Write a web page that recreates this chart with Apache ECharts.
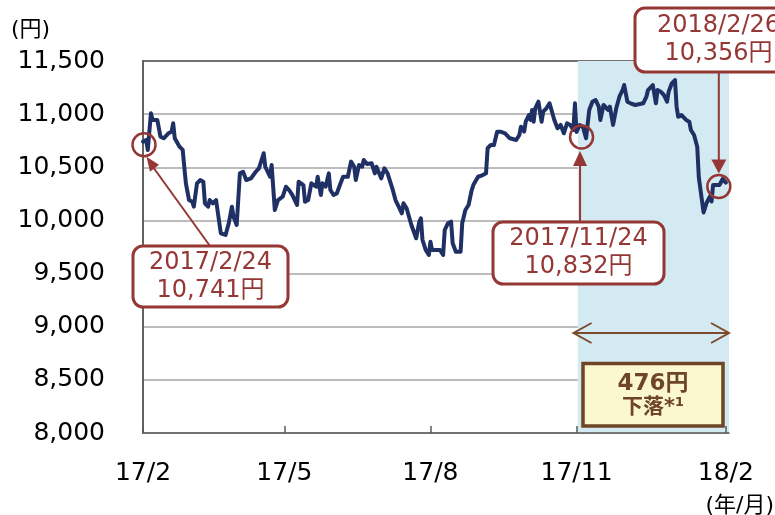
<!DOCTYPE html>
<html>
<head>
<meta charset="utf-8">
<script src="https://cdn.jsdelivr.net/npm/echarts@6/dist/echarts.min.js"></script>
<style>
  html, body { margin: 0; padding: 0; background: #fff; }
  #chart { width: 775px; height: 515px; }
</style>
</head>
<body>
<div id="chart"></div>
<script>
// days counted from 2017/2/24, closing price (yen)
var days = [
  0, 2, 3, 5, 6, 9, 11, 13, 16, 18,
  19, 20, 23, 25, 27, 29, 31, 32, 34, 36,
  38, 39, 41, 42, 44, 46, 49, 52, 54, 56,
  57, 59, 61, 63, 65, 68, 71, 73, 76, 77,
  78, 80, 81, 82, 83, 85, 88, 90, 92, 94,
  97, 98, 101, 102, 104, 106, 109, 110, 112, 113,
  115, 117, 118, 120, 122, 124, 126, 129, 131, 133,
  134, 136, 138, 139, 141, 144, 146, 147, 150, 152,
  154, 157, 159, 161, 163, 164, 166, 169, 172, 174,
  175, 176, 178, 180, 181, 182, 187, 189, 190, 192,
  194, 195, 197, 200, 201, 203, 205, 207, 208, 211,
  214, 216, 217, 219, 221, 223, 225, 228, 231, 232,
  235, 237, 238, 240, 241, 243, 244, 245, 246, 247,
  249, 251, 252, 254, 256, 259, 261, 263, 265, 267,
  269, 271, 272, 273, 275, 277, 279, 281, 283, 285,
  287, 288, 290, 293, 294, 296, 298, 300, 302, 303,
  305, 307, 310, 315, 317, 318, 321, 323, 324, 326,
  328, 330, 331, 333, 335, 336, 337, 339, 342, 344,
  345, 347, 349, 350, 351, 353, 355, 357, 358, 359,
  361, 363, 365, 367
]
var prices = [
  10741, 10757, 10663, 11008, 10945, 10945, 10788, 10773, 10820, 10835,
  10914, 10773, 10694, 10663, 10349, 10192, 10176, 10129, 10349, 10380,
  10364, 10161, 10129, 10192, 10161, 10192, 9879, 9863, 9973, 10129,
  10035, 9957, 10443, 10458, 10380, 10396, 10458, 10490, 10632, 10505,
  10521, 10411, 10521, 10505, 10098, 10192, 10223, 10317, 10286, 10240,
  10145, 10364, 10333, 10176, 10192, 10349, 10317, 10411, 10239, 10349,
  10317, 10443, 10286, 10239, 10254, 10333, 10411, 10411, 10553, 10505,
  10380, 10521, 10505, 10568, 10531, 10537, 10443, 10505, 10396, 10490,
  10443, 10302, 10192, 10129, 10067, 10161, 10114, 9957, 9832, 9988,
  10020, 9816, 9722, 9675, 9800, 9722, 9722, 9675, 9910, 9973,
  9988, 9785, 9706, 9706, 9973, 10098, 10145, 10286, 10333, 10411,
  10427, 10443, 10679, 10710, 10710, 10835, 10835, 10820, 10773, 10788,
  10757, 10804, 10882, 10835, 10929, 10992, 10945, 11039, 10929, 11055,
  11117, 10929, 11023, 11055, 11102, 10945, 10867, 10898, 10820, 10914,
  10898, 10851, 11102, 10832, 10898, 10882, 10773, 11039, 11117, 11133,
  11070, 10945, 11086, 11039, 11070, 10898, 11055, 11164, 11227, 11274,
  11117, 11102, 11086, 11102, 11164, 11227, 11274, 11102, 11227, 11211,
  11180, 11117, 11211, 11290, 11321, 11070, 10976, 10992, 10945, 10929,
  10851, 10804, 10694, 10404, 10390, 10075, 10169, 10225, 10178, 10333,
  10333, 10333, 10390, 10356
]
var tickDays   = [0, 89, 181, 273, 367]
var tickLabels = ['17/2', '17/5', '17/8', '17/11', '18/2']

// annotated points: [day, price, label]
var notes = [
  [0,   10741, '2017/2/24'],
  [273, 10832, '2017/11/24'],
  [367, 10356, '2018/2/26']
]
var dropText = '476円'

var RED   = '#953735'
var BROWN = '#6e4526'
var FONT  = '"DejaVu Sans", "Noto Sans CJK JP", sans-serif'

function fmt(n) { return String(n).replace(/\B(?=(\d{3})+(?!\d))/g, ',') }

var chart = echarts.init(document.getElementById('chart'), null, { renderer: 'canvas' })

var lineData = days.map(function(d, i) { return [d, prices[i]] })
var circleOffsets = [[1, 3], [5, 5], [-7, 4]]

chart.setOption({
  animation: false,
  grid: { left: 143, right: 46, top: 61, bottom: 82, outerBoundsMode: 'none' },
  xAxis: [{
    type: 'value', min: 0, max: 369, z: 3,
    axisLine: { show: true, lineStyle: { color: '#595959', width: 1.5 } },
    axisTick: { show: true, inside: true, length: 7, customValues: tickDays,
                lineStyle: { color: '#595959', width: 1.5 } },
    axisLabel: {
      customValues: tickDays, margin: 28, fontSize: 25, color: '#000', fontFamily: FONT,
      formatter: function(v) { return tickLabels[tickDays.indexOf(v)] || '' }
    },
    splitLine: { show: false }
  }, {
    type: 'value', position: 'top', min: 0, max: 369,
    axisLine: { show: true, lineStyle: { color: '#595959', width: 1.5 } },
    axisTick: { show: false }, axisLabel: { show: false }, splitLine: { show: false }
  }],
  yAxis: [{
    type: 'value', min: 8000, max: 11500, interval: 500,
    axisLine: { show: true, lineStyle: { color: '#595959', width: 1.5 } },
    axisTick: { show: false },
    axisLabel: { margin: 38, fontSize: 25, color: '#000', fontFamily: FONT, formatter: fmt },
    splitLine: { lineStyle: { color: '#a6a6a6', width: 1.5 } }
  }, {
    type: 'value', position: 'right', min: 8000, max: 11500, z: 3,
    axisLine: { show: true, lineStyle: { color: '#595959', width: 1.5 } },
    axisTick: { show: false }, axisLabel: { show: false }, splitLine: { show: false }
  }],
  series: [{
    type: 'line',
    data: lineData,
    showSymbol: false,
    lineStyle: { color: '#1f3064', width: 4, join: 'round', cap: 'round' },
    markArea: {
      silent: true,
      itemStyle: { color: '#d4eaf2' },
      data: [[{ xAxis: notes[1][0] + 0.8 }, { xAxis: 369 }]]
    },
    markPoint: {
      silent: true,
      symbol: 'circle',
      symbolSize: 23,
      label: { show: false },
      itemStyle: { color: 'rgba(0,0,0,0)', borderColor: RED, borderWidth: 2.5 },
      data: notes.map(function(n, i) {
        return { coord: [n[0], n[1]], symbolOffset: circleOffsets[i] }
      })
    }
  }],
  graphic: []
})

/* ── Annotations ─────────────────────────────────────────────────────── */
var p = notes.map(function(n) { return chart.convertToPixel({ gridIndex: 0 }, [n[0], n[1]]) })
var rightX = chart.convertToPixel({ xAxisIndex: 0 }, 369)

function box(x, y, w, h) {
  return { type: 'rect', z: 100, shape: { x: x, y: y, width: w, height: h, r: 10 },
           style: { fill: '#fff', stroke: RED, lineWidth: 3 } }
}
function label(x, y, n) {
  return { type: 'text', z: 101,
           style: { text: n[2] + '\n' + fmt(n[1]) + '円', x: x, y: y, align: 'center', verticalAlign: 'middle',
                    fontSize: 24, lineHeight: 28, fontFamily: FONT, fill: RED } }
}
function line(x1, y1, x2, y2, color, w) {
  return { type: 'line', z: 99, shape: { x1: x1, y1: y1, x2: x2, y2: y2 },
           style: { stroke: color, lineWidth: w } }
}
function head(pts) {
  return { type: 'polygon', z: 99, shape: { points: pts }, style: { fill: RED } }
}

var g = []
// 2017/2/24
g.push(line(210, 246, 153, 167, RED, 2))
g.push(head([[p[0][0] + 3.5, p[0][1] + 15], [p[0][0] + 16, p[0][1] + 23], [p[0][0] + 7, p[0][1] + 30]]))
g.push(box(133, 246, 155, 61))
g.push(label(210.5, 277, notes[0]))
// 2017/11/24
var x2 = p[1][0] + 3.5
g.push(line(x2, 165, x2, 222, RED, 2))
g.push(head([[x2, p[1][1] + 19], [x2 - 7, p[1][1] + 34], [x2 + 7, p[1][1] + 34]]))
g.push(box(493, 222, 171, 62))
g.push(label(578.5, 253, notes[1]))
// 2018/2/26
var x3 = p[2][0] - 7
g.push(line(x3, 72, x3, p[2][1] - 22, RED, 2))
g.push(head([[x3, p[2][1] - 9], [x3 - 7.5, p[2][1] - 23], [x3 + 7.5, p[2][1] - 23]]))
g.push(box(635, 8, 200, 64))
g.push(label(718.5, 40, notes[2]))

// double arrow over the shaded period
var ax1 = p[1][0] - 3, ay = 333
g.push({ type: 'line', z: 99, shape: { x1: ax1, y1: ay, x2: rightX, y2: ay }, style: { stroke: '#7b4b2b', lineWidth: 2 } })
g.push({ type: 'polyline', z: 99, shape: { points: [[ax1 + 18, ay - 10], [ax1, ay], [ax1 + 18, ay + 10]] },
         style: { stroke: '#7b4b2b', lineWidth: 2, fill: null } })
g.push({ type: 'polyline', z: 99, shape: { points: [[rightX - 18, ay - 10], [rightX, ay], [rightX - 18, ay + 10]] },
         style: { stroke: '#7b4b2b', lineWidth: 2, fill: null } })

// drop box
g.push({ type: 'rect', z: 100, shape: { x: 583, y: 363.5, width: 140, height: 62.5 },
         style: { fill: '#fbf7cf', stroke: BROWN, lineWidth: 3.5 } })
g.push({ type: 'text', z: 101, style: { text: dropText, x: 653, y: 384, align: 'center', verticalAlign: 'middle',
         fontSize: 23, fontWeight: 'bold', fontFamily: FONT, fill: BROWN } })
g.push({ type: 'text', z: 101, style: { text: '下落*¹', x: 653, y: 408, align: 'center', verticalAlign: 'middle',
         fontSize: 21, fontWeight: 'bold', fontFamily: FONT, fill: BROWN } })

// unit labels
g.push({ type: 'text', z: 101, style: { text: '(円)', x: 11, y: 30, verticalAlign: 'middle',
         fontSize: 22, fontFamily: FONT, fill: '#000' } })
g.push({ type: 'text', z: 101, style: { text: '(年/月)', x: 774, y: 506, align: 'right', verticalAlign: 'middle',
         fontSize: 22, fontFamily: FONT, fill: '#000' } })

chart.setOption({ graphic: g })

window.addEventListener('resize', function() { chart.resize() })
</script>
</body>
</html>
